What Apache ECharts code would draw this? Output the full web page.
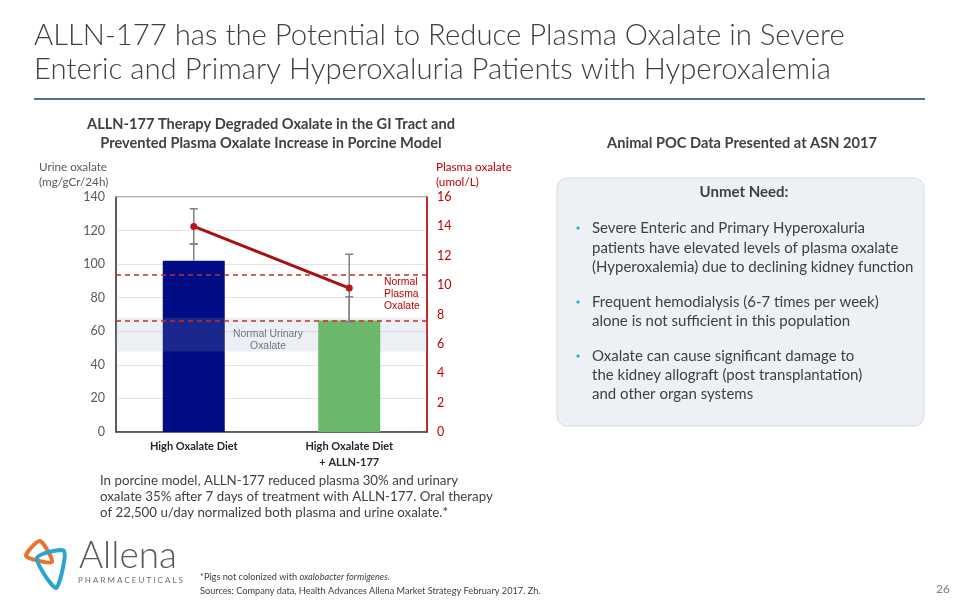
<!DOCTYPE html>
<html>
<head>
<meta charset="utf-8">
<script src="https://cdn.jsdelivr.net/npm/echarts@6/dist/echarts.min.js"></script>
<style>
html,body{margin:0;padding:0;background:#fff;}
#chart{width:960px;height:600px;}
</style>
</head>
<body>
<div id="chart"></div>
<script>
// ---- data ----
const categories = ['High Oxalate Diet', 'High Oxalate Diet\n+ ALLN-177'];
const urineOxalate = [102, 66.5];          // mg/gCr/24h (bars)
const urineErrUp = [10, 14];               // upper error
const plasmaOxalate = [14, 9.8];           // umol/L (line)
const plasmaErr = [1.2, 2.3];              // +/- error
const normalPlasma = [7.6, 10.7];          // dashed lines (umol/L)
const normalUrinary = [48, 68];            // shaded band (mg/gCr/24h)
const leftTicks = {min: 0, max: 140, interval: 20};
const rightTicks = {min: 0, max: 16, interval: 2};

const F = 'Lato, "Open Sans", sans-serif';
const A = '"Liberation Sans", Arial, sans-serif';
const chart = echarts.init(document.getElementById('chart'), null, {renderer: 'canvas'});

function errItem(params, api, low, high, capLow, capHigh) {
  const x = api.value(0);
  const pLow = api.coord([x, low]);
  const pHigh = api.coord([x, high]);
  const hw = 4;
  const style = {stroke: '#808080', lineWidth: 1.5};
  const children = [{type: 'line', shape: {x1: pLow[0], y1: pLow[1], x2: pHigh[0], y2: pHigh[1]}, style}];
  if (capHigh) children.push({type: 'line', shape: {x1: pHigh[0] - hw, y1: pHigh[1], x2: pHigh[0] + hw, y2: pHigh[1]}, style});
  if (capLow) children.push({type: 'line', shape: {x1: pLow[0] - hw, y1: pLow[1], x2: pLow[0] + hw, y2: pLow[1]}, style});
  return {type: 'group', children};
}

const option = {
  animation: false,
  backgroundColor: '#fff',
  grid: {left: 116, top: 197, width: 311, height: 235, show: true, borderColor: '#595959', borderWidth: 1, backgroundColor: 'transparent'},
  xAxis: {
    type: 'category', data: categories,
    axisLine: {lineStyle: {color: '#404040', width: 1.5}},
    axisTick: {show: false},
    axisLabel: {color: '#262626', fontSize: 11, fontWeight: 'bold', fontFamily: F, margin: 6, lineHeight: 16}
  },
  yAxis: [
    {type: 'value', min: leftTicks.min, max: leftTicks.max, interval: leftTicks.interval,
     axisLine: {show: true, lineStyle: {color: '#404040', width: 1.5}}, axisTick: {show: false},
     axisLabel: {color: '#595959', fontSize: 12.5, fontFamily: F, margin: 11},
     splitLine: {lineStyle: {color: '#e4e4e4', width: 1}}},
    {type: 'value', position: 'right', min: rightTicks.min, max: rightTicks.max, interval: rightTicks.interval,
     axisLine: {show: true, lineStyle: {color: '#c00000', width: 1.5}}, axisTick: {show: false},
     axisLabel: {color: '#c00000', fontSize: 12.5, fontFamily: F, margin: 10},
     splitLine: {show: false}}
  ],
  series: [
    {type: 'bar', name: 'Urine 1', yAxisIndex: 0, data: [urineOxalate[0], '-'], barWidth: 62, barGap: '-100%',
     itemStyle: {color: '#020c84'}, z: 2},
    {type: 'custom', name: 'band', yAxisIndex: 0, z: 3, data: [normalUrinary],
     renderItem: function (params, api) {
       const cs = params.coordSys;
       const yTop = api.coord([0, api.value(1)])[1];
       const yBot = api.coord([0, api.value(0)])[1];
       return {type: 'rect', shape: {x: cs.x, y: yTop, width: cs.width, height: yBot - yTop},
               style: {fill: 'rgba(150,168,189,0.18)'}};
     }},
    {type: 'bar', name: 'Urine 2', yAxisIndex: 0, data: ['-', urineOxalate[1]], barWidth: 62, barGap: '-100%',
     itemStyle: {color: '#6cb86b'}, z: 4},
    {type: 'custom', name: 'urineErr', yAxisIndex: 0, z: 5,
     data: urineOxalate.map((v, i) => [i, v, v + urineErrUp[i]]),
     renderItem: function (params, api) { return errItem(params, api, api.value(1), api.value(2), false, true); }},
    {type: 'custom', name: 'plasmaErr', yAxisIndex: 1, z: 5,
     data: plasmaOxalate.map((v, i) => [i, v - plasmaErr[i], v + plasmaErr[i]]),
     renderItem: function (params, api) { return errItem(params, api, api.value(1), api.value(2), true, true); }},
    {type: 'line', name: 'Plasma', yAxisIndex: 1, data: plasmaOxalate, z: 6,
     lineStyle: {color: '#a81010', width: 3}, itemStyle: {color: '#b5171c'},
     symbol: 'circle', symbolSize: 7,
     markLine: {silent: true, symbol: 'none', label: {show: false},
       lineStyle: {type: [5, 4], color: '#c0302a', width: 1.5},
       data: normalPlasma.map(v => ({yAxis: v}))}}
  ],
  graphic: [
    // Title
    {type: 'text', left: 34, top: 21, style: {text: 'ALLN-177 has the Potential to Reduce Plasma Oxalate in Severe', font: '300 29.3px ' + F, fill: '#404040'}},
    {type: 'text', left: 34, top: 55, style: {text: 'Enteric and Primary Hyperoxaluria Patients with Hyperoxalemia', font: '300 29.3px ' + F, fill: '#404040'}},
    {type: 'line', shape: {x1: 34, y1: 99, x2: 925, y2: 99}, style: {stroke: '#5d7183', lineWidth: 2}},
    // Subtitles
    {type: 'text', x: 271, y: 124, style: {text: 'ALLN-177 Therapy Degraded Oxalate in the GI Tract and', font: 'bold 14.6px ' + F, fill: '#404040', textAlign: 'center', textVerticalAlign: 'middle'}},
    {type: 'text', x: 271, y: 143, style: {text: 'Prevented Plasma Oxalate Increase in Porcine Model', font: 'bold 14.6px ' + F, fill: '#404040', textAlign: 'center', textVerticalAlign: 'middle'}},
    {type: 'text', x: 742, y: 143, style: {text: 'Animal POC Data Presented at ASN 2017', font: 'bold 14.6px ' + F, fill: '#404040', textAlign: 'center', textVerticalAlign: 'middle'}},
    // Axis names
    {type: 'text', x: 39, y: 167, style: {text: 'Urine oxalate', font: '11.7px ' + F, fill: '#595959', textVerticalAlign: 'middle'}},
    {type: 'text', x: 39, y: 182, style: {text: '(mg/gCr/24h)', font: '11.7px ' + F, fill: '#595959', textVerticalAlign: 'middle'}},
    {type: 'text', x: 436, y: 167, style: {text: 'Plasma oxalate', font: '11.7px ' + F, fill: '#c00000', textVerticalAlign: 'middle'}},
    {type: 'text', x: 436, y: 182, style: {text: '(umol/L)', font: '11.7px ' + F, fill: '#c00000', textVerticalAlign: 'middle'}},
    // In-chart annotations
    {type: 'text', x: 384, y: 282, z: 100, style: {text: 'Normal', font: '10.4px ' + A, fill: '#c00000', textVerticalAlign: 'middle'}},
    {type: 'text', x: 384, y: 294, z: 100, style: {text: 'Plasma', font: '10.4px ' + A, fill: '#c00000', textVerticalAlign: 'middle'}},
    {type: 'text', x: 384, y: 306, z: 100, style: {text: 'Oxalate', font: '10.4px ' + A, fill: '#c00000', textVerticalAlign: 'middle'}},
    {type: 'text', x: 268, y: 334, z: 100, style: {text: 'Normal Urinary', font: '10.4px ' + A, fill: '#6a7686', textAlign: 'center', textVerticalAlign: 'middle'}},
    {type: 'text', x: 268, y: 346, z: 100, style: {text: 'Oxalate', font: '10.4px ' + A, fill: '#6a7686', textAlign: 'center', textVerticalAlign: 'middle'}},
    // Paragraph
    {type: 'text', x: 100, y: 481, style: {text: 'In porcine model, ALLN-177 reduced plasma 30% and urinary', font: '13.3px ' + F, fill: '#404040', textVerticalAlign: 'middle'}},
    {type: 'text', x: 100, y: 497, style: {text: 'oxalate 35% after 7 days of treatment with ALLN-177. Oral therapy', font: '13.3px ' + F, fill: '#404040', textVerticalAlign: 'middle'}},
    {type: 'text', x: 100, y: 513, style: {text: 'of 22,500 u/day normalized both plasma and urine oxalate.*', font: '13.3px ' + F, fill: '#404040', textVerticalAlign: 'middle'}},
    // Right box
    {type: 'rect', shape: {x: 557, y: 178, width: 367, height: 248, r: 10}, style: {fill: '#edf1f5', stroke: '#d5dbe2', lineWidth: 1}},
    {type: 'text', x: 744, y: 192, style: {text: 'Unmet Need:', font: 'bold 15px ' + F, fill: '#404040', textAlign: 'center', textVerticalAlign: 'middle'}},
    {type: 'circle', shape: {cx: 578, cy: 228, r: 1.6}, style: {fill: '#27a3c6'}},
    {type: 'circle', shape: {cx: 578, cy: 302, r: 1.6}, style: {fill: '#27a3c6'}},
    {type: 'circle', shape: {cx: 578, cy: 356, r: 1.6}, style: {fill: '#27a3c6'}},
    {type: 'text', x: 592, y: 228, style: {text: 'Severe Enteric and Primary Hyperoxaluria', font: '15px ' + F, fill: '#404040', textVerticalAlign: 'middle'}},
    {type: 'text', x: 592, y: 248, style: {text: 'patients have elevated levels of plasma oxalate', font: '15px ' + F, fill: '#404040', textVerticalAlign: 'middle'}},
    {type: 'text', x: 592, y: 267, style: {text: '(Hyperoxalemia) due to declining kidney function', font: '15px ' + F, fill: '#404040', textVerticalAlign: 'middle'}},
    {type: 'text', x: 592, y: 302, style: {text: 'Frequent hemodialysis (6-7 times per week)', font: '15px ' + F, fill: '#404040', textVerticalAlign: 'middle'}},
    {type: 'text', x: 592, y: 321, style: {text: 'alone is not sufficient in this population', font: '15px ' + F, fill: '#404040', textVerticalAlign: 'middle'}},
    {type: 'text', x: 592, y: 356, style: {text: 'Oxalate can cause significant damage to', font: '15px ' + F, fill: '#404040', textVerticalAlign: 'middle'}},
    {type: 'text', x: 592, y: 375, style: {text: 'the kidney allograft (post transplantation)', font: '15px ' + F, fill: '#404040', textVerticalAlign: 'middle'}},
    {type: 'text', x: 592, y: 394, style: {text: 'and other organ systems', font: '15px ' + F, fill: '#404040', textVerticalAlign: 'middle'}},
    // Footnotes
    {type: 'text', x: 200, y: 577, style: {
      text: '{n|*Pigs not colonized with }{i|oxalobacter formigenes.}',
      rich: {n: {font: '9.2px ' + F, fill: '#404040'}, i: {font: 'italic 9.2px ' + F, fill: '#404040'}},
      textVerticalAlign: 'middle'}},
    {type: 'text', x: 200, y: 591, style: {text: 'Sources: Company data, Health Advances Allena Market Strategy February 2017. Zh.', font: '9.2px ' + F, fill: '#404040', textVerticalAlign: 'middle'}},
    {type: 'text', x: 950, y: 589, style: {text: '26', font: '12px ' + F, fill: '#7f7f7f', textAlign: 'right', textVerticalAlign: 'middle'}},
    // Logo
    {type: 'polygon', shape: {points: [[26, 556], [40, 541], [52, 562]], smooth: 0.25}, style: {fill: 'none', stroke: '#e8732c', lineWidth: 4}},
    {type: 'polygon', shape: {points: [[37, 558], [64, 551], [56, 588]], smooth: 0.25}, style: {fill: 'none', stroke: '#2aa3cf', lineWidth: 4}},
    {type: 'text', x: 79, y: 556, style: {text: 'Allena', font: '300 37px ' + F, fill: '#555a60', textVerticalAlign: 'middle'}},
    {type: 'text', x: 78, y: 580, style: {text: 'P H A R M A C E U T I C A L S', font: '8px ' + F, fill: '#6b6f75', textVerticalAlign: 'middle'}}
  ]
};
chart.setOption(option);
</script>
</body>
</html>
